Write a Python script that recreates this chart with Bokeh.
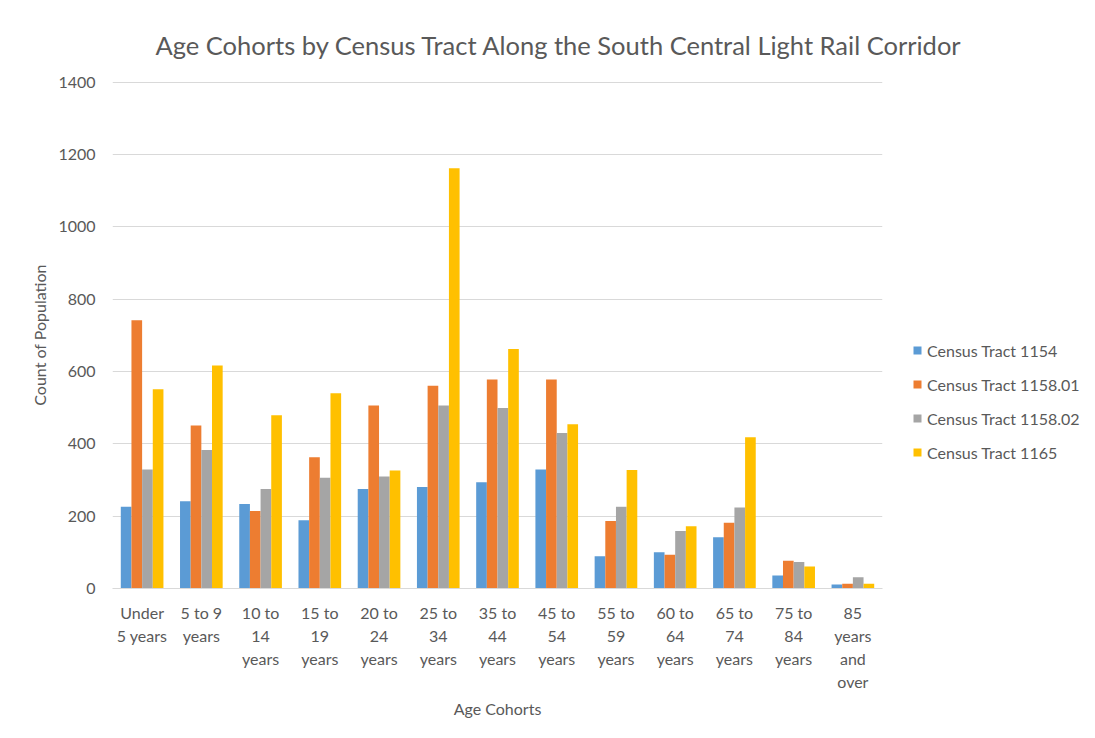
from bokeh.plotting import figure
from bokeh.models import FactorRange, Range1d, FixedTicker, Legend, LegendItem, Title, ColumnDataSource
from bokeh.transform import dodge
from bokeh.embed import file_html
from bokeh.resources import INLINE

categories = ["Under\n5 years", "5 to 9\nyears", "10 to\n14\nyears", "15 to\n19\nyears",
              "20 to\n24\nyears", "25 to\n34\nyears", "35 to\n44\nyears", "45 to\n54\nyears",
              "55 to\n59\nyears", "60 to\n64\nyears", "65 to\n74\nyears", "75 to\n84\nyears",
              "85\nyears\nand\nover"]
series_names = ["Census Tract 1154", "Census Tract 1158.01", "Census Tract 1158.02", "Census Tract 1165"]
tract_1154 = [226, 241, 234, 189, 275, 281, 294, 329, 89, 100, 142, 36, 11]
tract_1158_01 = [742, 451, 214, 363, 506, 561, 578, 578, 187, 93, 182, 77, 13]
tract_1158_02 = [329, 383, 275, 306, 310, 506, 499, 430, 226, 159, 224, 73, 31]
tract_1165 = [551, 617, 479, 540, 326, 1162, 662, 454, 328, 172, 418, 61, 13]
y_ticks = [0, 200, 400, 600, 800, 1000, 1200, 1400]
colors = ["#5B9BD5", "#ED7D31", "#A5A5A5", "#FFC000"]

FONT = "Lato"
TXT = "#595959"
GRID = "#d9d9d9"

source = ColumnDataSource(dict(cohort=categories, s0=tract_1154, s1=tract_1158_01,
                               s2=tract_1158_02, s3=tract_1165))

p = figure(x_range=FactorRange(*categories, range_padding=0, factor_padding=0),
           y_range=Range1d(0, 1402),
           frame_width=770, frame_height=507,
           min_border_left=112, min_border_right=197, min_border_top=81, min_border_bottom=134,
           output_backend="svg", toolbar_location=None)
p.outline_line_color = None
p.background_fill_color = "white"

offsets = [-0.27, -0.09, 0.09, 0.27]
renderers = []
for i, key in enumerate(["s0", "s1", "s2", "s3"]):
    r = p.vbar(x=dodge("cohort", offsets[i], range=p.x_range), top=key, width=0.18,
               source=source, fill_color=colors[i], line_color=None)
    renderers.append(r)

# axes
p.yaxis.ticker = FixedTicker(ticks=y_ticks)
p.yaxis.axis_line_color = None
p.yaxis.major_tick_line_color = None
p.yaxis.minor_tick_line_color = None
p.yaxis.major_tick_out = 0
p.yaxis.major_label_standoff = 17
p.yaxis.axis_label = "Count of Population"
p.yaxis.axis_label_standoff = 6
p.yaxis.axis_label_text_font_style = "normal"

p.xaxis.axis_line_color = GRID
p.xaxis.major_tick_line_color = None
p.xaxis.minor_tick_line_color = None
p.xaxis.major_tick_out = 0
p.xaxis.major_label_standoff = 14
p.xaxis.major_label_text_line_height = 1.22
p.xaxis.axis_label = "Age Cohorts"
p.xaxis.axis_label_standoff = 5
p.xaxis.axis_label_text_font_style = "normal"

for ax in (p.xaxis, p.yaxis):
    ax.major_label_text_font = FONT
    ax.major_label_text_font_size = "16px"
    ax.major_label_text_color = TXT
    ax.axis_label_text_font = FONT
    ax.axis_label_text_font_size = "16px"
    ax.axis_label_text_color = TXT

p.xgrid.grid_line_color = None
p.ygrid.grid_line_color = GRID
p.ygrid.grid_line_width = 1

legend = Legend(items=[LegendItem(label=series_names[i], renderers=[renderers[i]]) for i in range(4)],
                location=(30, 126), orientation="vertical",
                glyph_width=10, glyph_height=10, label_standoff=5,
                label_height=20, spacing=14, padding=0, margin=0,
                label_text_font=FONT, label_text_font_size="16px", label_text_color=TXT,
                border_line_color=None, background_fill_alpha=0)
p.add_layout(legend, "right")

title = Title(text="Age Cohorts by Census Tract Along the South Central Light Rail Corridor",
              align="left", offset=43, standoff=43, text_font=FONT,
              text_font_size="25.5px", text_font_style="normal", text_color=TXT)
p.add_layout(title, "above")

open("out.html", "w").write(file_html(p, INLINE))
